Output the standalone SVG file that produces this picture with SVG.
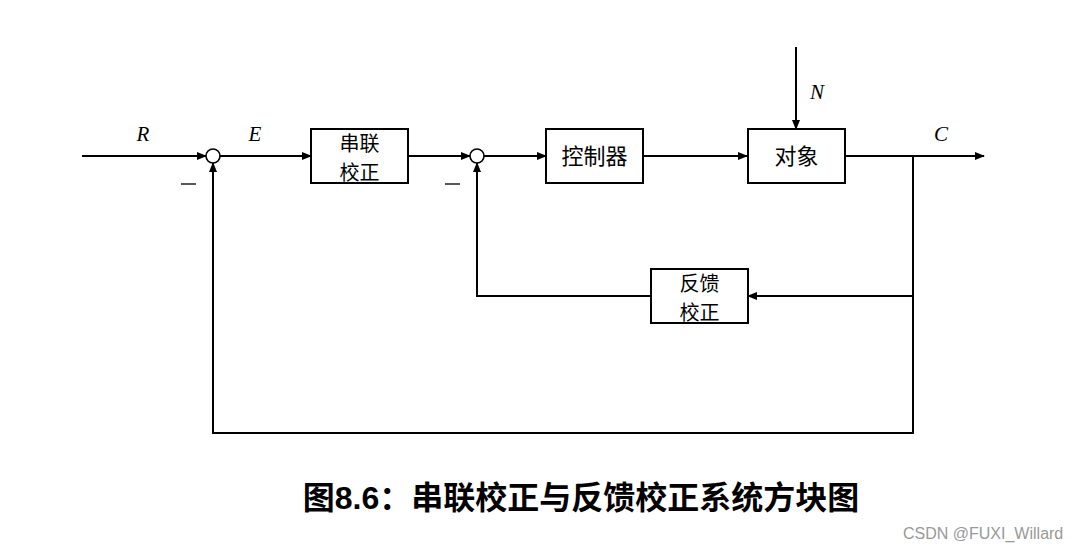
<svg xmlns="http://www.w3.org/2000/svg" width="1079" height="551" viewBox="0 0 1079 551">
<defs>
<marker id="arr" markerWidth="10" markerHeight="8" refX="9" refY="4" orient="auto" markerUnits="userSpaceOnUse">
<path d="M0,0 L10,4 L0,8 Z" fill="#000"/>
</marker>
</defs>
<style>
.box{fill:#fff;stroke:#000;stroke-width:2}
.ln{fill:none;stroke:#000;stroke-width:2}
.sum{fill:#fff;stroke:#000;stroke-width:1.6}
.cn{font-family:"Noto Sans CJK SC","Liberation Sans",sans-serif;font-size:22px;fill:#000;text-anchor:middle}
.cn2{font-family:"Noto Sans CJK SC","Liberation Sans",sans-serif;font-size:20px;fill:#000;text-anchor:middle}
.var{font-family:"Liberation Serif","DejaVu Serif",serif;font-style:italic;font-size:21px;fill:#000;text-anchor:middle}
.title{font-family:"Liberation Sans","Noto Sans CJK SC",sans-serif;font-weight:bold;font-size:32px;fill:#000;text-anchor:middle}
.wm{font-family:"Liberation Sans",sans-serif;font-size:16px;fill:#999}
</style>
<rect width="1079" height="551" fill="#fff"/>
<g id="connectors">
<line class="ln" x1="82" y1="156" x2="206" y2="156" marker-end="url(#arr)"/>
<line class="ln" x1="220" y1="156" x2="311" y2="156" marker-end="url(#arr)"/>
<line class="ln" x1="408" y1="156" x2="470" y2="156" marker-end="url(#arr)"/>
<line class="ln" x1="484" y1="156" x2="546" y2="156" marker-end="url(#arr)"/>
<line class="ln" x1="643" y1="156" x2="747" y2="156" marker-end="url(#arr)"/>
<line class="ln" x1="796" y1="47" x2="796" y2="129" marker-end="url(#arr)"/>
<line class="ln" x1="845" y1="156" x2="984" y2="156" marker-end="url(#arr)"/>
<polyline class="ln" points="913,156 913,296 748,296" marker-end="url(#arr)"/>
<polyline class="ln" points="651,296 477,296 477,163" marker-end="url(#arr)"/>
<polyline class="ln" points="913,296 913,433 213,433 213,163" marker-end="url(#arr)"/>
</g>
<g id="sum1"><circle class="sum" cx="213" cy="156" r="7"/></g>
<g id="sum2"><circle class="sum" cx="477" cy="156" r="7"/></g>
<g id="series">
<rect class="box" x="311" y="129" width="97" height="54"/>
<text class="cn2" x="359.5" y="151">串联</text>
<text class="cn2" x="359.5" y="180">校正</text>
</g>
<g id="controller">
<rect class="box" x="546" y="129" width="97" height="54"/>
<text class="cn" x="594.5" y="164">控制器</text>
</g>
<g id="plant">
<rect class="box" x="748" y="129" width="97" height="54"/>
<text class="cn" x="796.5" y="164">对象</text>
</g>
<g id="feedback">
<rect class="box" x="651" y="269" width="97" height="54"/>
<text class="cn2" x="699.5" y="291">反馈</text>
<text class="cn2" x="699.5" y="320">校正</text>
</g>
<g id="labels">
<text class="var" x="143" y="141">R</text>
<text class="var" x="255" y="141">E</text>
<text class="var" x="817" y="99">N</text>
<text class="var" x="941" y="141">C</text>
<line x1="181" y1="184" x2="196" y2="184" stroke="#000" stroke-width="1.3"/>
<line x1="445" y1="184" x2="460" y2="184" stroke="#000" stroke-width="1.3"/>
</g>
<text class="title" x="581" y="509">图8.6：串联校正与反馈校正系统方块图</text>
<text class="wm" x="903" y="539">CSDN @FUXI_Willard</text>
</svg>
